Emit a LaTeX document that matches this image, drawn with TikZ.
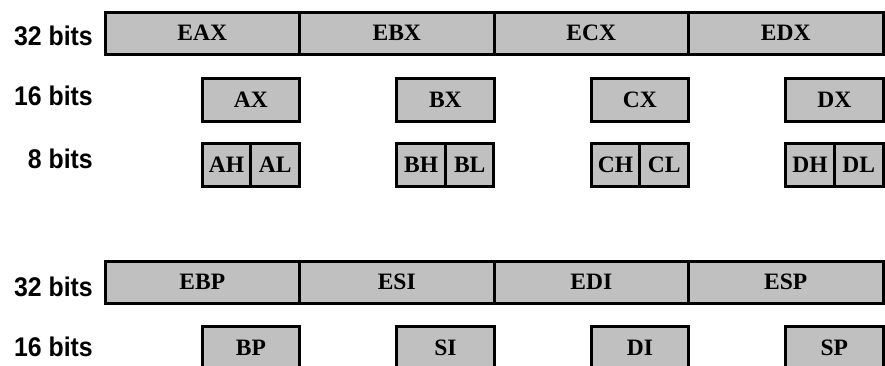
\documentclass[tikz,border=0pt]{standalone}
\usepackage{fontspec}
\setmainfont{Liberation Serif}
\newfontfamily\bitsfont[FakeStretch=0.92]{Liberation Sans}
\definecolor{regfill}{HTML}{C0C0C0}

\begin{document}
\begin{tikzpicture}[x=1pt, y=-1pt,
	reg/.style={rectangle, draw, line width=3pt, fill=regfill, inner sep=0pt, minimum height=42pt, font=\bfseries\fontsize{23.5}{23.5}\selectfont},
	r32/.style={reg, minimum width=194.5pt},
	r16/.style={reg, minimum width=97.25pt, minimum height=43pt},
	r8/.style={reg, minimum width=48.6pt, minimum height=43pt},
	bits/.style={anchor=east, inner sep=0pt, font=\bitsfont\bfseries\fontsize{27}{27}\selectfont}]
		\clip (0, 0) rectangle (885, 365);
		\begin{scope}
			\node[bits] (b32) at (93, 36) {32 bits};
			\node[bits] (b16) at (93, 95.5) {16 bits};
			\node[bits] (b8) at (93, 159) {8 bits};
			\node[r32] (eax) at (202.25, 33) {EAX};
			\node[r32] (ebx) at (396.75, 33) {EBX};
			\node[r32] (ecx) at (591.25, 33) {ECX};
			\node[r32] (edx) at (785.75, 33) {EDX};
			\node[r16] (ax) at (250.875, 99.5) {AX};
			\node[r16] (bx) at (445.375, 99.5) {BX};
			\node[r16] (cx) at (639.875, 99.5) {CX};
			\node[r16] (dx) at (834.375, 99.5) {DX};
			\node[r8] (ah) at (226.56, 164.5) {AH};
			\node[r8] (al) at (275.19, 164.5) {AL};
			\node[r8] (bh) at (421.06, 164.5) {BH};
			\node[r8] (bl) at (469.69, 164.5) {BL};
			\node[r8] (ch) at (615.56, 164.5) {CH};
			\node[r8] (cl) at (664.19, 164.5) {CL};
			\node[r8] (dh) at (810.06, 164.5) {DH};
			\node[r8] (dl) at (858.69, 164.5) {DL};
		\end{scope}
		\begin{scope}
			\node[bits] (c32) at (93, 287) {32 bits};
			\node[bits] (c16) at (93, 347) {16 bits};
			\node[r32] (ebp) at (202.25, 282) {EBP};
			\node[r32] (esi) at (396.75, 282) {ESI};
			\node[r32] (edi) at (591.25, 282) {EDI};
			\node[r32] (esp) at (785.75, 282) {ESP};
			\node[r16] (bp) at (250.875, 347.5) {BP};
			\node[r16] (si) at (445.375, 347.5) {SI};
			\node[r16] (di) at (639.875, 347.5) {DI};
			\node[r16] (sp) at (834.375, 347.5) {SP};
		\end{scope}
	\end{tikzpicture}
\end{document}
